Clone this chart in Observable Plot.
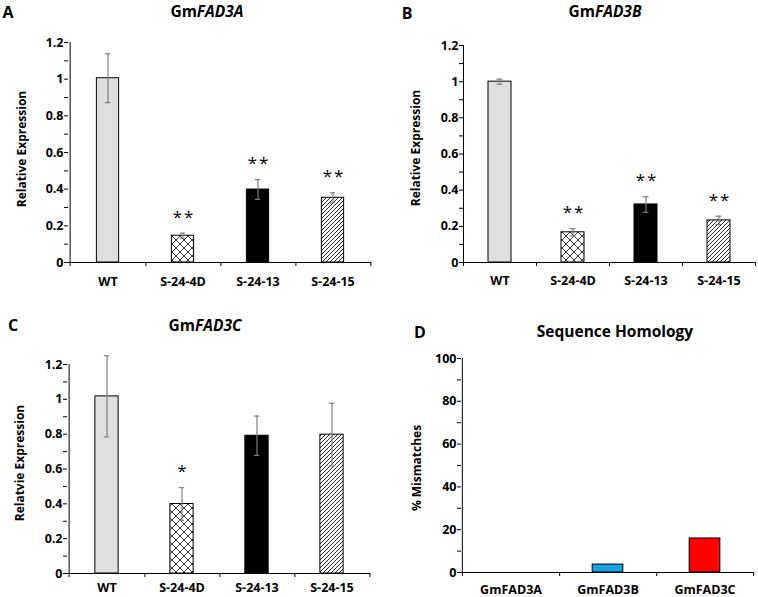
<!DOCTYPE html>
<html>
<head>
<meta charset="utf-8">
<script src="https://cdn.jsdelivr.net/npm/d3@7"></script>
<script src="https://cdn.jsdelivr.net/npm/@observablehq/plot@0.6"></script>
<style>
  body { margin: 0; background: #ffffff; }
  #wrap { position: relative; width: 758px; height: 597px; overflow: hidden; font-family: "Open Sans", Lato, sans-serif; color: #000; }
  .ttl { position: absolute; transform: translate(-50%, -50%); font-weight: bold; font-size: 15.5px; white-space: nowrap; }
  .let { position: absolute; transform: translate(-50%, -50%); font-weight: bold; font-size: 16px; }
  .ylab { position: absolute; transform: translate(-50%, -50%) rotate(-90deg); font-weight: bold; font-size: 12px; white-space: nowrap; }
  .stars text { letter-spacing: 2px; }
</style>
</head>
<body>
<svg width="0" height="0" style="position:absolute">
  <defs>
    <pattern id="cross" patternUnits="userSpaceOnUse" width="8" height="8">
      <rect width="8" height="8" fill="#ffffff"></rect>
      <path d="M0,0L8,8M8,0L0,8" stroke="#222" stroke-width="0.9" fill="none"></path>
    </pattern>
    <pattern id="diag" patternUnits="userSpaceOnUse" width="4" height="4">
      <rect width="4" height="4" fill="#ffffff"></rect>
      <path d="M-1,1L1,-1M0,4L4,0M3,5L5,3" stroke="#111" stroke-width="0.9" fill="none"></path>
    </pattern>
  </defs>
</svg>
<div id="wrap">
  <div class="let" style="left:8px;top:12px">A</div>
  <div class="ttl" style="left:207px;top:11px">Gm<i>FAD3A</i></div>
  <div class="ylab" style="left:21px;top:149px">Relative Expression</div>

  <div class="let" style="left:407px;top:13px">B</div>
  <div class="ttl" style="left:605px;top:11px">Gm<i>FAD3B</i></div>
  <div class="ylab" style="left:415px;top:148px">Relative Expression</div>

  <div class="let" style="left:13px;top:325px">C</div>
  <div class="ttl" style="left:205px;top:325px">Gm<i>FAD3C</i></div>
  <div class="ylab" style="left:19px;top:463px">Relatvie Expression</div>

  <div class="let" style="left:420px;top:332px">D</div>
  <div class="ttl" style="left:615px;top:331px">Sequence Homology</div>
  <div class="ylab" style="left:416px;top:468px">% Mismatches</div>
</div>
<script>
// ---- data ----
const categories = ["WT", "S-24-4D", "S-24-13", "S-24-15"];
const fad3aMean = [1.005, 0.146, 0.398, 0.353];
const fad3aErr  = [0.133, 0.014, 0.054, 0.027];
const fad3aSig  = ["", "**", "**", "**"];
const fad3bMean = [1.0, 0.167, 0.321, 0.233];
const fad3bErr  = [0.014, 0.02, 0.043, 0.023];
const fad3bSig  = ["", "**", "**", "**"];
const fad3cMean = [1.017, 0.399, 0.791, 0.797];
const fad3cErr  = [0.233, 0.094, 0.113, 0.18];
const fad3cSig  = ["", "*", "", ""];
const exprTicks = [0, 0.2, 0.4, 0.6, 0.8, 1, 1.2];
const exprMinor = [0.1, 0.3, 0.5, 0.7, 0.9, 1.1];
const exprFills = ["#dfdfdf", "url(#cross)", "#000000", "url(#diag)"];

const homologyGenes = ["GmFAD3A", "GmFAD3B", "GmFAD3C"];
const mismatchPct = [0, 3.7, 15.9];
const pctTicks = [0, 20, 40, 60, 80, 100];
const pctMinor = [10, 30, 50, 70, 90];
const homologyFills = ["#ffffff", "#1ba1e2", "#ff0000"];

const wrap = document.getElementById("wrap");

function panel(o) {
  const data = o.cats.map((c, i) => ({
    cat: c, v: o.mean[i], e: o.err ? o.err[i] : 0, sig: o.sig ? o.sig[i] : ""
  }));
  const step = (o.width - o.ml - o.mr) / o.cats.length;
  const marks = [
    Plot.barY(data, {x: "cat", y: "v", fill: "cat", stroke: "#000", strokeWidth: 1,
      insetLeft: (step - o.barW) / 2, insetRight: (step - o.barW) / 2})
  ];
  if (o.err) {
    const capIn = (step - 6) / 2;
    marks.push(
      Plot.ruleX(data, {x: "cat", y1: d => d.v - d.e, y2: d => d.v + d.e, stroke: "#7f7f7f", strokeWidth: 1.2}),
      Plot.tickY(data, {x: "cat", y: d => d.v + d.e, stroke: "#7f7f7f", strokeWidth: 1.2, insetLeft: capIn, insetRight: capIn}),
      Plot.tickY(data, {x: "cat", y: d => d.v - d.e, stroke: "#7f7f7f", strokeWidth: 1.2, insetLeft: capIn, insetRight: capIn}),
      Plot.text(data.filter(d => d.sig), {x: "cat", y: d => d.v + d.e, text: "sig", dy: -16, dx: 1,
        fontSize: 17, fontWeight: "normal", fill: "#000", className: "stars"})
    );
  }
  marks.push(
    Plot.ruleY([0], {stroke: "#000", strokeWidth: 1}),
    Plot.ruleX([o.cats[0]], {x: d => d, dx: -step / 2, y1: 0, y2: o.yDomain[1], stroke: "#000", strokeWidth: 1}),
    Plot.axisY({ticks: o.yTicks, tickSize: 4, tickPadding: 1, label: null, stroke: "#000", fill: "#000",
      tickFormat: d => String(d)}),
    Plot.axisY({ticks: o.yMinor, tickSize: 4, label: null, stroke: "#000", fill: "none"}),
    Plot.axisX({tickSize: 0, tickPadding: o.xPad, label: null, fill: "#000"}),
    Plot.axisX({ticks: o.cats, tickSize: 4, dx: step / 2, label: null, stroke: "#000", fill: "none"}),
    Plot.axisX({ticks: [o.cats[0]], tickSize: 4, dx: -step / 2, label: null, stroke: "#000", fill: "none"})
  );
  const svg = Plot.plot({
    width: o.width, height: o.height,
    marginLeft: o.ml, marginRight: o.mr, marginTop: o.mt, marginBottom: o.mb,
    style: {fontFamily: "'Open Sans', Lato, sans-serif", fontSize: "12.5px", fontWeight: "bold",
      color: "#000", background: "transparent", overflow: "visible"},
    x: {domain: o.cats, padding: 0},
    y: {domain: o.yDomain},
    color: {domain: o.cats, range: o.fills},
    marks
  });
  svg.style.position = "absolute";
  svg.style.left = o.left + "px";
  svg.style.top = o.top + "px";
  svg.style.maxWidth = "none";
  wrap.appendChild(svg);
}

panel({left: 0, top: 0, width: 380, height: 300, ml: 68, mr: 9, mt: 42, mb: 38,
  cats: categories, mean: fad3aMean, err: fad3aErr, sig: fad3aSig, fills: exprFills,
  yDomain: [0, 1.2], yTicks: exprTicks, yMinor: exprMinor, barW: 23, xPad: 15});
panel({left: 378, top: 0, width: 380, height: 300, ml: 85, mr: 3, mt: 45, mb: 38,
  cats: categories, mean: fad3bMean, err: fad3bErr, sig: fad3bSig, fills: exprFills,
  yDomain: [0, 1.2], yTicks: exprTicks, yMinor: exprMinor, barW: 23, xPad: 14});
panel({left: 0, top: 300, width: 380, height: 297, ml: 67, mr: 10, mt: 64, mb: 24,
  cats: categories, mean: fad3cMean, err: fad3cErr, sig: fad3cSig, fills: exprFills,
  yDomain: [0, 1.2], yTicks: exprTicks, yMinor: exprMinor, barW: 24, xPad: 10});
panel({left: 378, top: 300, width: 380, height: 297, ml: 83, mr: 5, mt: 58, mb: 25,
  cats: homologyGenes, mean: mismatchPct, fills: homologyFills,
  yDomain: [0, 100], yTicks: pctTicks, yMinor: pctMinor, barW: 31, xPad: 13});
</script>
</body>
</html>
